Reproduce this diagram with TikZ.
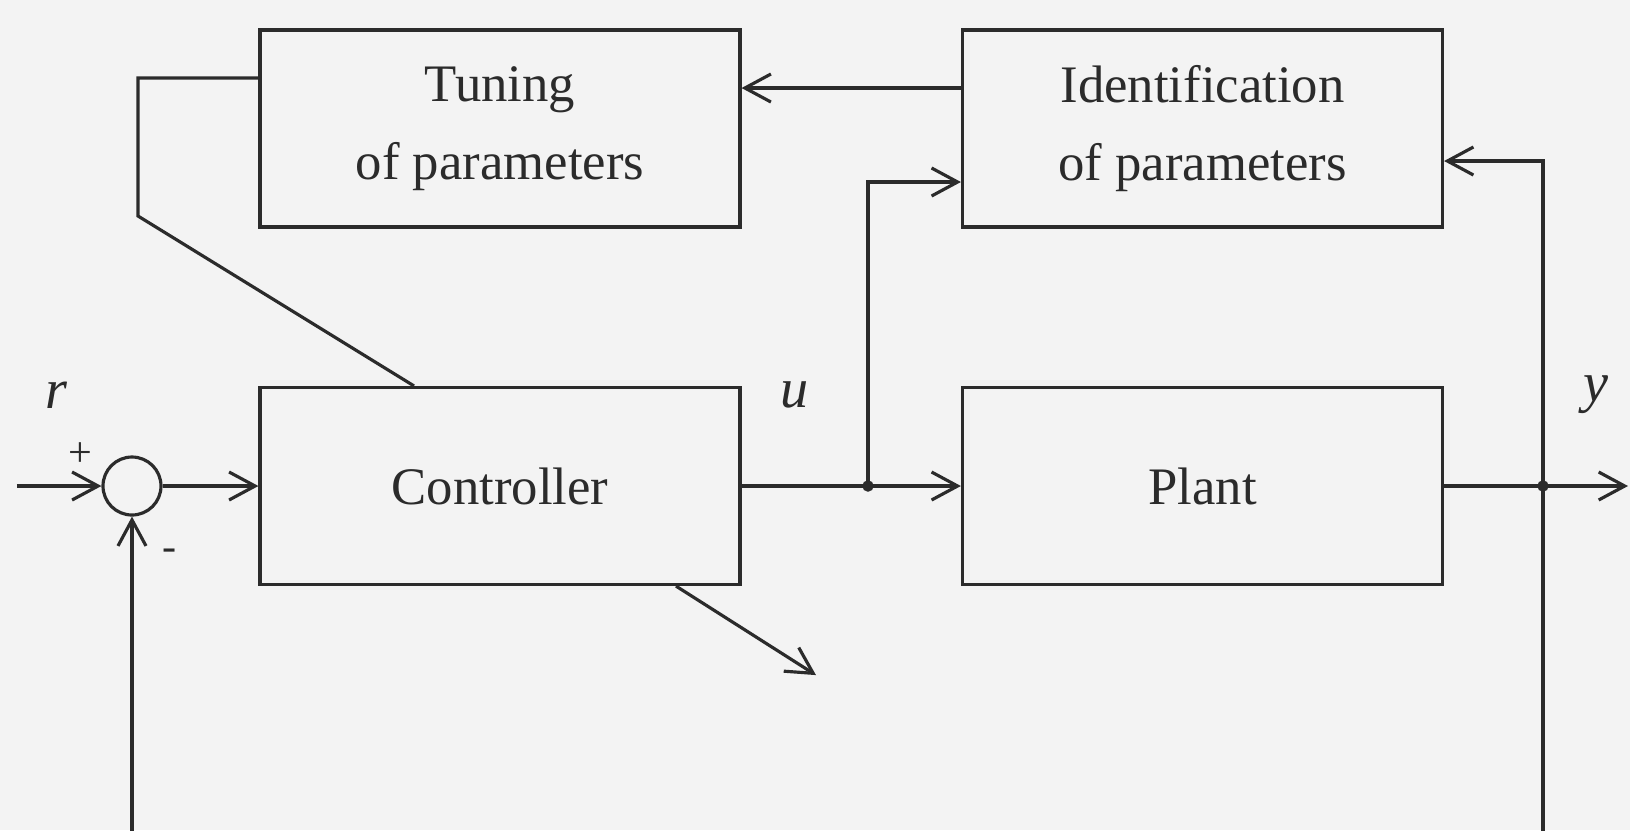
\documentclass[tikz,border=0pt]{standalone}
\usepackage{fontspec}
\setmainfont{Liberation Serif}
\usetikzlibrary{arrows.meta,positioning}
\definecolor{ink}{HTML}{2B2B2B}
\definecolor{paper}{HTML}{F3F3F3}
\tikzset{
  block/.style={draw=ink, line width=0.9pt, minimum width=4.8cm, minimum height=1.97cm,
    align=center, text=ink, font=\fontsize{15}{22}\selectfont},
  sumnode/.style={draw=ink, line width=0.9pt, circle, minimum size=0.58cm, inner sep=0pt},
  sig/.style={draw=ink, line width=0.9pt, -{Straight Barb[length=2.6mm,width=2.8mm,line width=0.9pt]}},
  wire/.style={draw=ink, line width=0.9pt},
  varlabel/.style={text=ink, font=\fontsize{16}{18}\selectfont\itshape},
  signlabel/.style={text=ink, font=\fontsize{12}{14}\selectfont},
}
\begin{document}
\begin{tikzpicture}
			\fill[paper] (0,0) rectangle (16.3,-8.3);
			\useasboundingbox (0,0) rectangle (16.3,-8.3);
			% blocks
			\node[block] (tun) at (5.00,-1.285) {Tuning\\of parameters};
			\node[block] (ident) at (12.025,-1.285) {Identification\\of parameters};
			\node[block] (ctl) at (5.00,-4.86) {Controller};
			\node[block] (plant) at (12.025,-4.86) {Plant};
			\node[sumnode] (sum) at (1.32,-4.86) {};
			% branch points and free ends
			\coordinate (in) at (0.17,-4.86);
			\coordinate (uj) at (8.68,-4.86);
			\coordinate (yj) at (15.43,-4.86);
			\coordinate (out) at (16.28,-4.86);
			\coordinate (fb) at (15.43,-8.7);
			\coordinate (kink) at (1.38,-2.16);
			\filldraw[ink] (uj) circle (0.05);
			\filldraw[ink] (yj) circle (0.05);
			% main loop
			\draw[sig] (in) -- (sum.west);
			\draw[sig] (sum) -- (ctl);
			\draw[wire] (ctl.east) -- (uj);
			\draw[sig] (uj) -- (plant.west);
			\draw[wire] (plant.east) -- (yj);
			\draw[sig] (yj) -- (out);
			\draw[sig] (yj) -- (fb) -| (sum.south);
			% adaptation path
			\draw[sig] (uj) |- ([yshift=-5.35mm]ident.west);
			\draw[sig] (yj) |- ([yshift=-3.25mm]ident.east);
			\draw[sig] ([yshift=4.05mm]ident.west) -- ([yshift=4.05mm]tun.east);
			\draw[wire] ([yshift=5.05mm]tun.west) -| (kink) -- ([xshift=-8.6mm]ctl.north);
			\draw[sig] ([xshift=17.6mm]ctl.south) -- ++(1.40,-0.89);
			% signal labels
			\node[varlabel] (r) at (0.56,-3.95) {r};
			\node[varlabel] (u) at (7.95,-3.95) {u};
			\node[varlabel] (y) at (15.96,-3.95) {y};
			\node[signlabel] (plus) at (0.80,-4.55) {+};
			\node[signlabel] (minus) at (1.70,-5.55) {-};
\end{tikzpicture}
\end{document}
